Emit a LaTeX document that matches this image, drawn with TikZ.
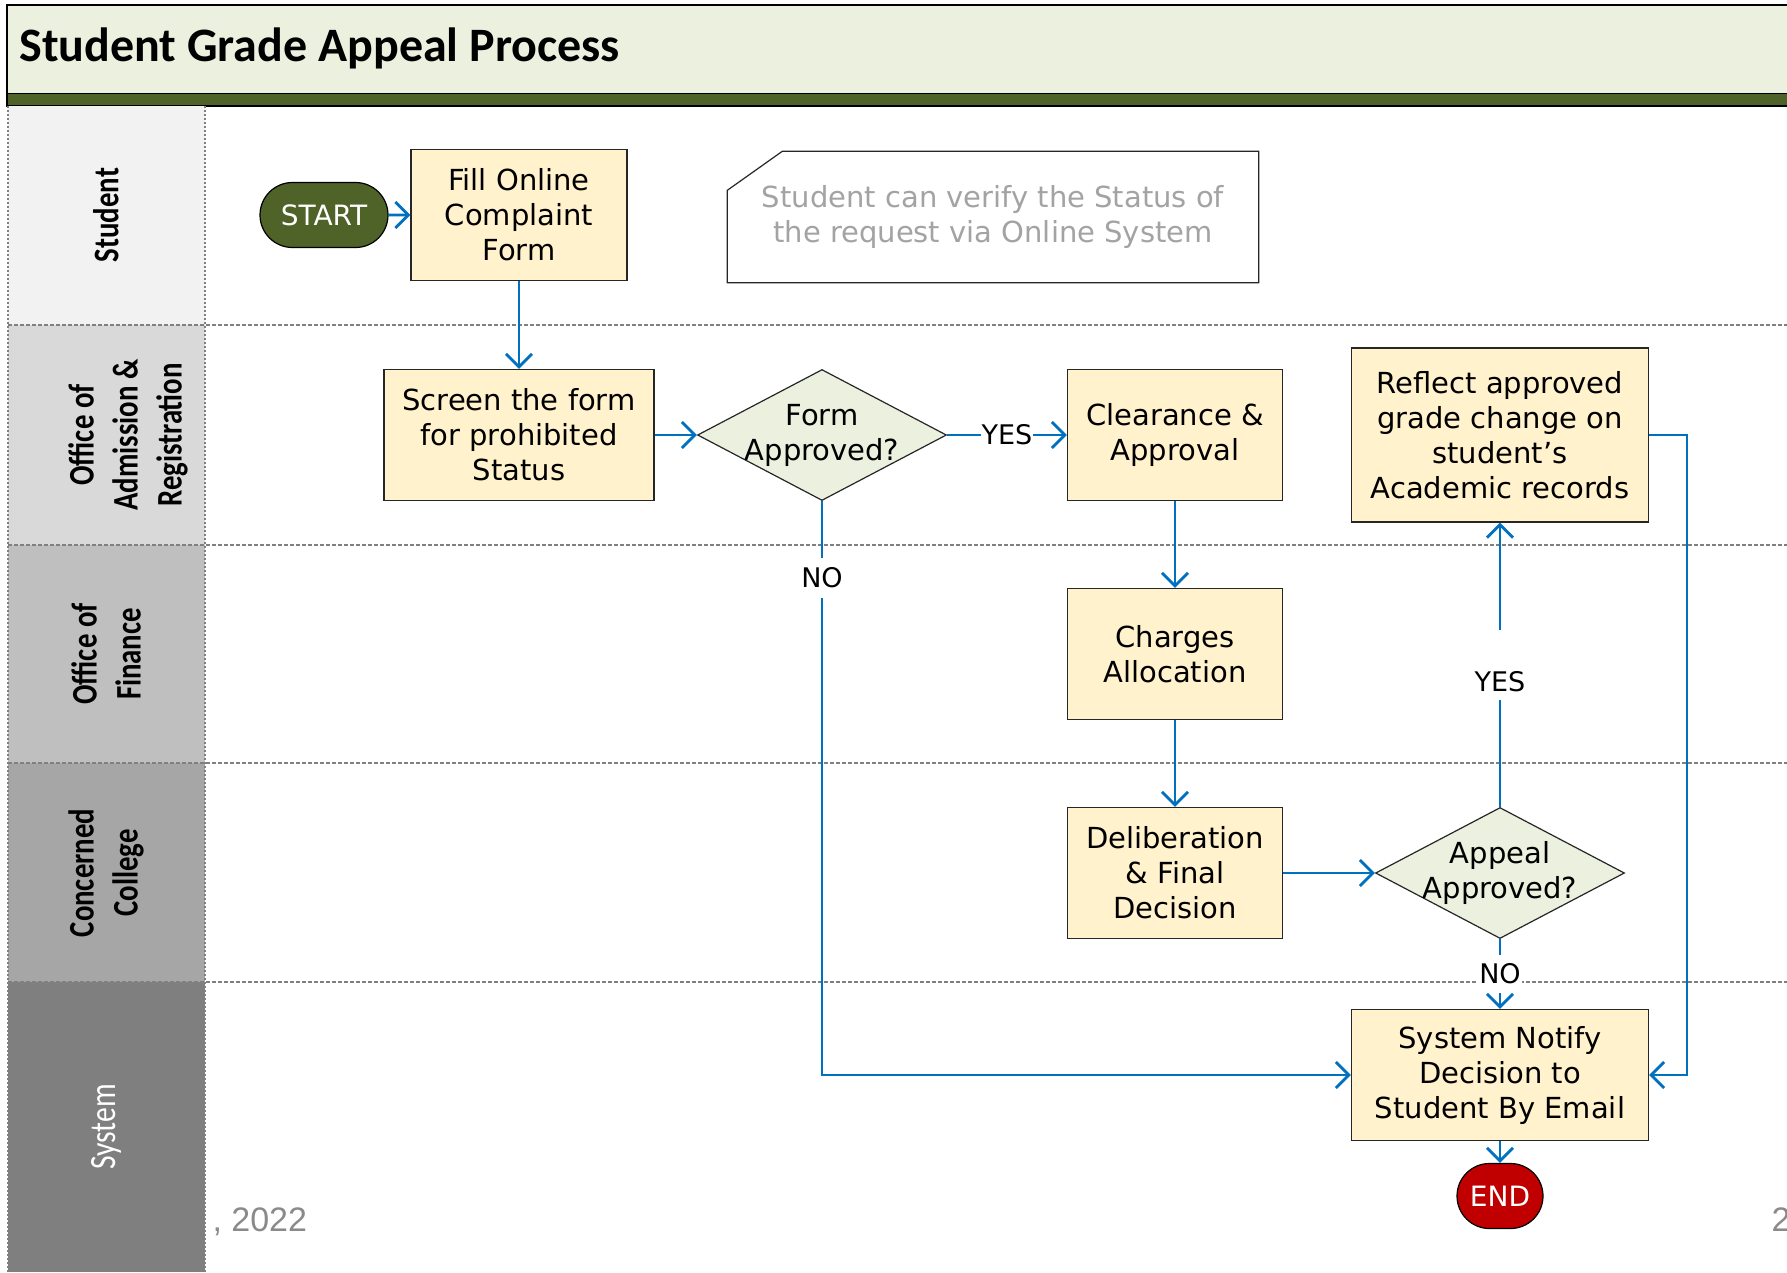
\documentclass[tikz,border=0pt]{standalone}
\usepackage{fontspec}
\setmainfont{DejaVu Sans}
\newfontfamily\titlefont{Carlito}
\newfontfamily\lanefont[FakeStretch=0.8]{Carlito}
\newfontfamily\footfont{Liberation Sans}
\usetikzlibrary{arrows.meta}
\usetikzlibrary{shapes.geometric}
\usetikzlibrary{shapes.misc}
\definecolor{titlebg}{HTML}{EBF1DE}
\definecolor{titlebar}{HTML}{4F6228}
\definecolor{laneA}{HTML}{F2F2F2}
\definecolor{laneB}{HTML}{D9D9D9}
\definecolor{laneC}{HTML}{BFBFBF}
\definecolor{laneD}{HTML}{A6A6A6}
\definecolor{laneE}{HTML}{7F7F7F}
\definecolor{boxfill}{HTML}{FFF2CC}
\definecolor{flowblue}{HTML}{0070C0}
\definecolor{endred}{HTML}{C00000}
\definecolor{notegray}{HTML}{A3A3A3}
\definecolor{footgray}{HTML}{8A8A8A}
\tikzset{
  proc/.style={rectangle,draw=black!85,line width=1.2pt,fill=boxfill,align=center,
    inner sep=0pt,font=\fontsize{29}{35}\selectfont},
  decision/.style={diamond,draw=black!85,line width=1.2pt,fill=titlebg,inner sep=0pt},
  dectext/.style={align=center,font=\fontsize{29}{35}\selectfont},
  terminal/.style={rounded rectangle,draw=black,line width=1.2pt,text=white,
    inner sep=0pt,font=\fontsize{28}{34}\selectfont},
  lanetxt/.style={rotate=90,align=center,font=\lanefont\bfseries\fontsize{36}{44}\selectfont},
  flow/.style={draw=flowblue,line width=2.8pt,-{Straight Barb[length=13pt,width=26pt]}},
  lbl/.style={fill=white,inner xsep=1pt,inner ysep=8pt,font=\fontsize{27}{30}\selectfont}
}
\begin{document}
\begin{tikzpicture}[x=1pt,y=-1pt]
\useasboundingbox (0,0) rectangle (1787,1272);
\clip (0,0) rectangle (1787,1272);
\fill[white] (0,0) rectangle (1787,1272);
\fill[titlebg] (7,5) rectangle (1800,93);
\fill[titlebar] (7,93) rectangle (1800,106);
\draw[line width=1pt] (7,93) -- (1800,93);
\draw[line width=2.5pt] (7,5) rectangle (1800,106);
\node[anchor=base west,font=\titlefont\bfseries\fontsize{48}{56}\selectfont] (title) at (16,61) {Student Grade Appeal Process};

\fill[laneA] (8,106) rectangle (205,325);
\fill[laneB] (8,325) rectangle (205,545);
\fill[laneC] (8,545) rectangle (205,763);
\fill[laneD] (8,763) rectangle (205,982);
\fill[laneE] (8,982) rectangle (205,1272);
\draw[gray,line width=1.2pt,dash pattern=on 2pt off 2pt] (8,106) -- (8,1272);
\draw[gray,line width=1.2pt,dash pattern=on 2pt off 2pt] (205,106) -- (205,1272);
\draw[gray,line width=1.2pt,dash pattern=on 4pt off 2pt] (8,325) -- (1787,325);
\draw[gray,line width=1.2pt,dash pattern=on 4pt off 2pt] (8,545) -- (1787,545);
\draw[gray,line width=1.2pt,dash pattern=on 4pt off 2pt] (8,763) -- (1787,763);
\draw[gray,line width=1.2pt,dash pattern=on 4pt off 2pt] (8,982) -- (1787,982);
\node[lanetxt] (lstudent) at (106,215) {Student};
\node[lanetxt] (loar) at (128,435) {Office of\\Admission \&\\Registration};
\node[lanetxt] (lfinance) at (106,654) {Office of\\Finance};
\node[lanetxt] (lcollege) at (106,873) {Concerned\\College};
\node[lanetxt,font=\lanefont\fontsize{37}{44}\selectfont,text=white] (lsystem) at (106,1127) {System};

\node[terminal,fill=titlebar,minimum width=128pt,minimum height=65pt] (start) at (324,215) {START};
\node[proc,minimum width=216pt,minimum height=131pt] (fill) at (519,215) {Fill Online\\Complaint\\Form};
\node[align=center,text=notegray,minimum width=531pt,minimum height=131pt,font=\fontsize{29}{35}\selectfont] (note) at (993,217) {Student can verify the Status of\\the request via Online System};
\draw[black!85,line width=1.2pt] ([yshift=-39pt]note.north west) -- ([xshift=55pt]note.north west) -- (note.north east) -- (note.south east) -- (note.south west) -- cycle;
\node[proc,minimum width=270pt,minimum height=131pt] (screen) at (519,435) {Screen the form\\for prohibited\\Status};
\node[decision,minimum width=249pt,minimum height=131pt] (formok) at (822,435) {};
\node[dectext] (formtxt) at (formok) {Form\\Approved?};
\node[proc,minimum width=215pt,minimum height=131pt] (clear) at (1175,435) {Clearance \&\\Approval};
\node[proc,minimum width=297pt,minimum height=174pt] (reflect) at (1500,435) {Reflect approved\\grade change on\\student’s\\Academic records};
\node[proc,minimum width=215pt,minimum height=131pt] (charges) at (1175,654) {Charges\\Allocation};
\node[proc,minimum width=215pt,minimum height=131pt] (delib) at (1175,873) {Deliberation\\\& Final\\Decision};
\node[decision,minimum width=249pt,minimum height=131pt] (appealok) at (1500,873) {};
\node[dectext] (appealtxt) at (appealok) {Appeal\\Approved?};
\node[proc,minimum width=297pt,minimum height=131pt] (notify) at (1500,1075) {System Notify\\Decision to\\Student By Email};
\node[terminal,fill=endred,minimum width=86pt,minimum height=65pt] (end) at (1500,1196) {END};
\coordinate (rturn) at (1687,435);

\draw[flow] (start) -- (fill);
\draw[flow] (fill) -- (screen);
\draw[flow] (screen) -- (formok);
\draw[flow] (formok) -- node[lbl,inner ysep=1pt] {YES} (clear);
\draw[flow] (formok) |- node[lbl,pos=0.067,inner ysep=10pt] {NO} (notify);
\draw[flow] (clear) -- (charges);
\draw[flow] (charges) -- (delib);
\draw[flow] (delib) -- (appealok);
\draw[flow] (appealok) -- node[lbl,midway,text height=56pt,text depth=2pt,inner ysep=6pt] {YES} (reflect);
\draw[flow] (appealok) -- node[lbl,inner ysep=9pt] {NO} (notify);
\draw[flow] (reflect) -- (rturn) |- (notify);
\draw[flow] (notify) -- (end);

\node[anchor=base west,font=\footfont\fontsize{34}{40}\selectfont,text=footgray] (year) at (209,1231) {, 2022};
\node[anchor=base west,font=\footfont\fontsize{34}{40}\selectfont,text=footgray] (page) at (1768,1231) {2};
\end{tikzpicture}
\end{document}
